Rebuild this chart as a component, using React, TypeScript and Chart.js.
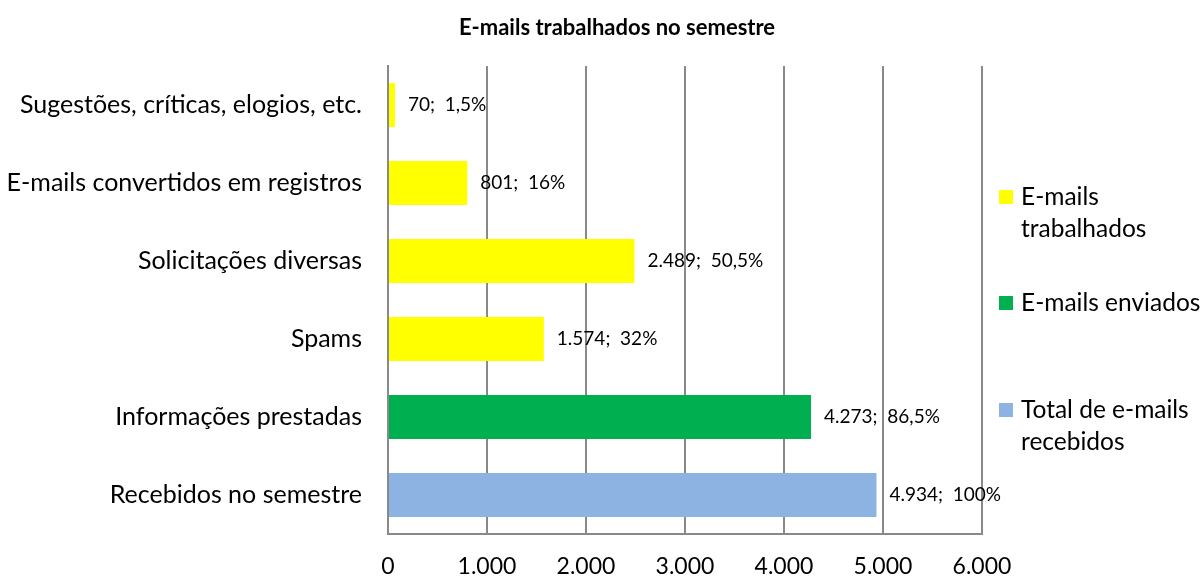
import React, { useEffect, useRef } from "react";
import { Chart, registerables } from "chart.js";

Chart.register(...registerables);

const categories = [
  "Sugestões, críticas, elogios, etc.",
  "E-mails convertidos em registros",
  "Solicitações diversas",
  "Spams",
  "Informações prestadas",
  "Recebidos no semestre",
];
const values = [70, 801, 2489, 1574, 4273, 4934];
const percentLabels = ["1,5%", "16%", "50,5%", "32%", "86,5%", "100%"];
const seriesGroup = [0, 0, 0, 0, 1, 2];
const legendNames = [["E-mails", "trabalhados"], ["E-mails enviados"], ["Total de e-mails", "recebidos"]];
const legendColors = ["#FFFF00", "#00B050", "#8DB3E2"];
const xTicks = [0, 1000, 2000, 3000, 4000, 5000, 6000];
const chartTitle = "E-mails trabalhados no semestre";

const FONT = "Lato, 'Open Sans', sans-serif";

const fmt = (v: number) => v.toLocaleString("pt-BR");

export default function App() {
  const ref = useRef<HTMLCanvasElement | null>(null);
  useEffect(() => {
    if (!ref.current) return;
    const overlay = {
      id: "overlay",
      afterDraw(chart: any) {
        const ctx = chart.ctx;
        const meta = chart.getDatasetMeta(0);
        ctx.save();
        // data labels
        ctx.fillStyle = "#000";
        ctx.font = `19px ${FONT}`;
        ctx.textAlign = "left";
        ctx.textBaseline = "middle";
        meta.data.forEach((bar: any, i: number) => {
          ctx.fillText(`${fmt(values[i])};  ${percentLabels[i]}`, bar.x + 13, bar.y);
        });
        // title
        ctx.font = `bold 22px ${FONT}`;
        ctx.textAlign = "center";
        ctx.fillText(chartTitle, 617, 28);
        // legend
        const itemY = [197, 303, 410];
        ctx.font = `24.5px ${FONT}`;
        ctx.textAlign = "left";
        legendNames.forEach((lines, k) => {
          ctx.fillStyle = legendColors[k];
          ctx.fillRect(999, itemY[k] - 7, 14, 14);
          ctx.fillStyle = "#000";
          lines.forEach((ln, j) => ctx.fillText(ln, 1021, itemY[k] + j * 32));
        });
        ctx.restore();
      },
    };
    const chart = new Chart(ref.current, {
      type: "bar",
      data: {
        labels: categories,
        datasets: [
          {
            data: values,
            backgroundColor: seriesGroup.map((g) => legendColors[g]),
            categoryPercentage: 1,
            barPercentage: 0.565,
          },
        ],
      },
      options: {
        indexAxis: "y",
        responsive: false,
        animation: false,
        layout: { padding: { left: 0, right: 221, top: 66, bottom: 0 } },
        plugins: { legend: { display: false }, title: { display: false }, tooltip: { enabled: false } },
        scales: {
          x: {
            min: 0,
            max: 6000,
            afterBuildTicks: (axis: any) => {
              axis.ticks = xTicks.map((v) => ({ value: v }));
            },
            afterFit: (axis: any) => {
              axis.height = 43;
            },
            grid: { color: "#898989", lineWidth: 2, drawTicks: false },
            border: { display: true, color: "#898989", width: 2 },
            ticks: {
              padding: 19,
              color: "#000",
              font: { family: FONT, size: 23 },
              callback: (v: any) => fmt(Number(v)),
            },
          },
          y: {
            afterFit: (axis: any) => {
              axis.width = 388;
            },
            grid: { display: false, drawTicks: false },
            border: { display: true, color: "#898989", width: 2 },
            ticks: {
              padding: 26,
              color: "#000",
              font: { family: FONT, size: 25 },
            },
          },
        },
      },
      plugins: [overlay],
    });
    return () => chart.destroy();
  }, []);
  return (
    <div style={{ position: "absolute", left: 0, top: 0, width: 1203, height: 577, background: "#fff" }}>
      <canvas ref={ref} width={1203} height={577} />
    </div>
  );
}
